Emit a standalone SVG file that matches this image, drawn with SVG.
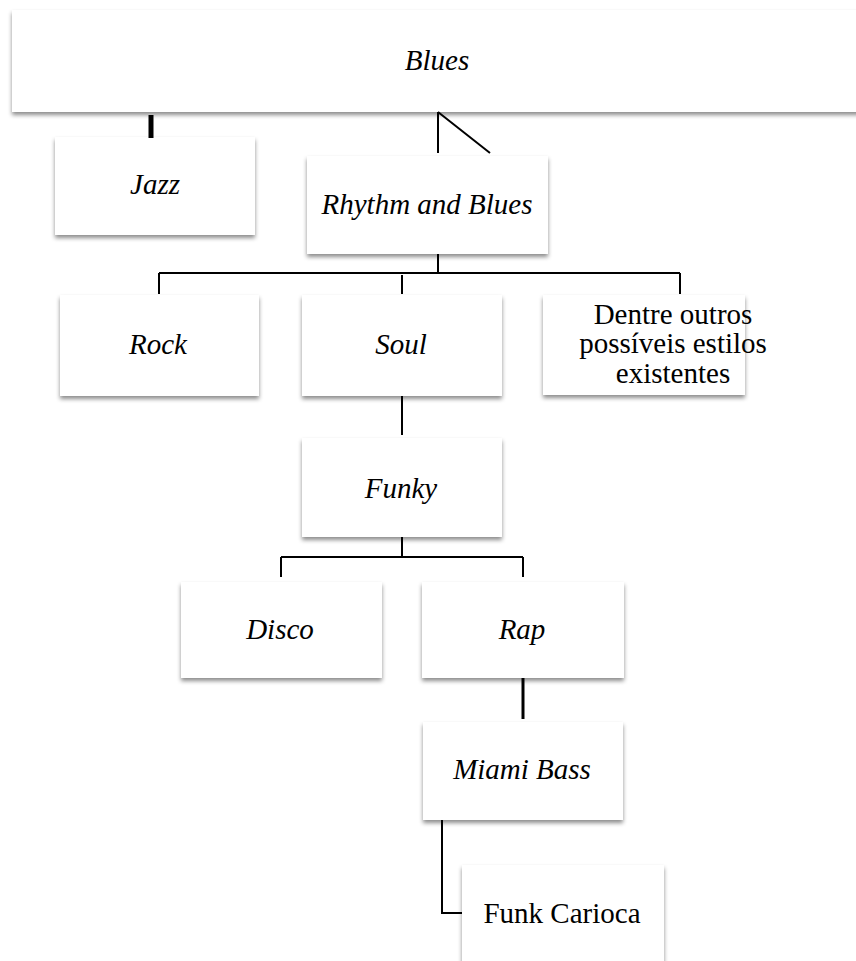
<svg xmlns="http://www.w3.org/2000/svg" width="856" height="961" viewBox="0 0 856 961">
<style>
.box{fill:#fff;filter:url(#sh)}
.t{font-family:"Liberation Serif","Times New Roman",serif;font-size:29px;fill:#000;text-anchor:middle}
.i{font-style:italic}
.c{stroke:#000;stroke-width:2;fill:none}
</style>
<defs>
<filter id="sh" x="-10%" y="-10%" width="120%" height="130%">
<feDropShadow dx="0" dy="3" stdDeviation="2" flood-color="#000" flood-opacity="0.45"/>
</filter>
</defs>
<rect width="856" height="961" fill="#fff"/>
<g id="blues"><rect class="box" x="12" y="10" width="860" height="102"/><text class="t i" x="437" y="70">Blues</text></g>
<g id="jazz"><rect class="box" x="55" y="137" width="200" height="98"/><text class="t i" x="155" y="194">Jazz</text></g>
<g id="rnb"><rect class="box" x="307" y="156" width="241" height="98"/><text class="t i" x="427" y="214">Rhythm and Blues</text></g>
<g id="rock"><rect class="box" x="60" y="295" width="199" height="101"/><text class="t i" x="158" y="354">Rock</text></g>
<g id="soul"><rect class="box" x="302" y="295" width="200" height="101"/><text class="t i" x="401" y="354">Soul</text></g>
<g id="dentre"><rect class="box" x="543" y="295" width="202" height="100"/><text class="t" x="673" y="324">Dentre outros</text><text class="t" x="673" y="353">possíveis estilos</text><text class="t" x="673" y="383">existentes</text></g>
<g id="funky"><rect class="box" x="302" y="438" width="200" height="99"/><text class="t i" x="401" y="498">Funky</text></g>
<g id="disco"><rect class="box" x="181" y="582" width="201" height="96"/><text class="t i" x="280" y="639">Disco</text></g>
<g id="rap"><rect class="box" x="422" y="582" width="202" height="96"/><text class="t i" x="522" y="639">Rap</text></g>
<g id="miami"><rect class="box" x="423" y="722" width="200" height="98"/><text class="t i" x="522" y="779">Miami Bass</text></g>
<g id="funkcarioca"><rect class="box" x="462" y="865" width="202" height="110"/><text class="t" x="562" y="923">Funk Carioca</text></g>
<g id="connectors">
<line x1="151" y1="115" x2="151" y2="138" stroke="#000" stroke-width="5"/>
<path class="c" d="M438 112V153M438 112L490 153"/>
<path class="c" d="M438 254V273M159 273H680M159 273V294M402 275V294M680 273V294"/>
<path class="c" d="M402 396V435"/>
<path class="c" d="M402 537V557M281 557H523M281 557V577M523 557V577"/>
<line x1="523" y1="678" x2="523" y2="719" stroke="#000" stroke-width="3"/>
<path class="c" d="M442 820V913H462"/>
</g>
</svg>
